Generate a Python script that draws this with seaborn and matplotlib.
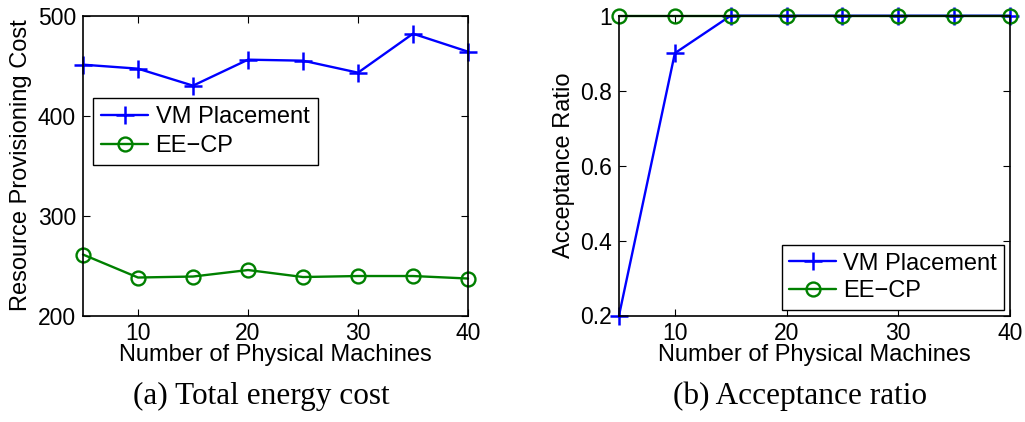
import matplotlib
matplotlib.use("Agg")
import matplotlib.pyplot as plt
import seaborn as sns
import pandas as pd
from matplotlib.ticker import FixedLocator, FuncFormatter

machines = [5, 10, 15, 20, 25, 30, 35, 40]
cost_vm = [451, 447, 430, 456, 455, 443, 482, 464]
cost_eecp = [261, 238, 239, 245.5, 238.5, 239.5, 239.5, 237]
acc_vm = [0.2, 0.9, 1.0, 1.0, 1.0, 1.0, 1.0, 1.0]
acc_eecp = [1.0, 1.0, 1.0, 1.0, 1.0, 1.0, 1.0, 1.0]
series_names = ["VM Placement", "EE\u2212CP"]
xlabel = "Number of Physical Machines"
captions = ["(a) Total energy cost", "(b) Acceptance ratio"]

sns.set_style("ticks")
plt.rcParams["font.family"] = ["Liberation Sans", "DejaVu Sans"]
plt.rcParams["text.color"] = "black"
plt.rcParams["axes.labelcolor"] = "black"
plt.rcParams["xtick.color"] = "black"
plt.rcParams["ytick.color"] = "black"
plt.rcParams["axes.linewidth"] = 1.2

fig = plt.figure(figsize=(10.25, 4.22), dpi=100)
W, H = 1025, 422
ax1 = fig.add_axes([83 / W, 1 - 315.5 / H, (468 - 83) / W, (315.5 - 15.7) / H])
ax2 = fig.add_axes([619 / W, 1 - 315.5 / H, (1010 - 619) / W, (315.5 - 15.7) / H])

blue = (0, 0, 1)
green = (0, 0.5, 0)

def draw(ax, yvm, yee):
    df = pd.DataFrame({"x": machines, "vm": yvm, "ee": yee})
    sns.lineplot(data=df, x="x", y="vm", ax=ax, color=blue, marker="+",
                 markersize=13, markeredgewidth=1.8, markeredgecolor=blue,
                 linewidth=1.7, label=series_names[0], clip_on=False)
    sns.lineplot(data=df, x="x", y="ee", ax=ax, color=green, marker="o",
                 markersize=10, markerfacecolor="none", markeredgecolor=green,
                 markeredgewidth=1.7, linewidth=1.7,
                 label=series_names[1], clip_on=False)
    ax.set_xlim(5, 40)
    ax.xaxis.set_major_locator(FixedLocator([10, 20, 30, 40]))
    ax.tick_params(direction="in", length=5, width=0.8, top=True, right=True,
                   labelsize=16.5, colors="black", pad=5)
    for s in ax.spines.values():
        s.set_visible(True)
        s.set_color("black")
        s.set_linewidth(1.2)
    ax.set_xlabel(xlabel, fontsize=17, labelpad=-1, color="black")

draw(ax1, cost_vm, cost_eecp)
ax1.set_ylim(200, 500)
ax1.yaxis.set_major_locator(FixedLocator([200, 300, 400, 500]))
ax1.set_ylabel("Resource Provisioning Cost", fontsize=17, labelpad=4, color="black")
leg1 = ax1.legend(loc="upper left", bbox_to_anchor=(0.026, 0.727), fontsize=17,
                  frameon=True, fancybox=False, edgecolor="black", framealpha=1,
                  handlelength=2.0, handletextpad=0.3, borderpad=0.35,
                  labelspacing=0.3, borderaxespad=0)
leg1.get_frame().set_linewidth(1.0)

draw(ax2, acc_vm, acc_eecp)
ax2.set_ylim(0.2, 1.0)
ax2.yaxis.set_major_locator(FixedLocator([0.2, 0.4, 0.6, 0.8, 1.0]))
ax2.yaxis.set_major_formatter(FuncFormatter(lambda v, p: "1" if abs(v - 1) < 1e-9 else f"{v:.1f}"))
ax2.set_ylabel("Acceptance Ratio", fontsize=17, labelpad=4, color="black")
leg2 = ax2.legend(loc="lower right", bbox_to_anchor=(0.985, 0.02), fontsize=17,
                  frameon=True, fancybox=False, edgecolor="black", framealpha=1,
                  handlelength=2.0, handletextpad=0.3, borderpad=0.3,
                  labelspacing=0.25, borderaxespad=0)
leg2.get_frame().set_linewidth(1.0)

for i, cx in enumerate([261, 800]):
    fig.text(cx / W, 1 - 396 / H, captions[i], ha="center", va="center",
             fontsize=22.5, color="black", family=["Liberation Serif", "DejaVu Serif"])

fig.savefig("out.png", dpi=100)
